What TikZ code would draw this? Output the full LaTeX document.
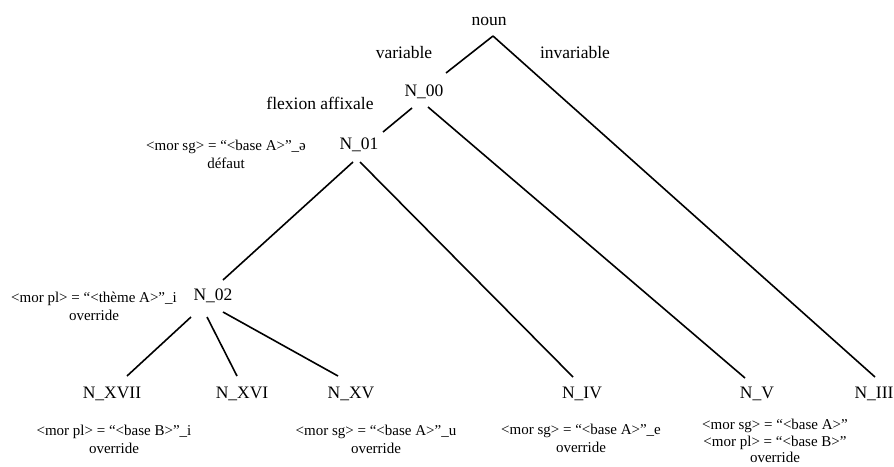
\documentclass[tikz,border=0pt]{standalone}
\usepackage{fontspec}
\setmainfont{Liberation Serif}
\usetikzlibrary{calc}
\begin{document}
\begin{tikzpicture}[x=1pt,y=-1pt,
  lab/.style={inner sep=0pt,font=\fontsize{17.5}{21}\selectfont},
  ann/.style={inner sep=0pt,align=center,font=\fontsize{15}{18}\selectfont},
  edge/.style={line width=1.6pt}]
\useasboundingbox (0,0) rectangle (894,466);
% tree nodes
\node[lab] (noun) at (489,21) {noun};
\node[lab] (n00) at (424,92) {N\_00};
\node[lab] (n01) at (359,145) {N\_01};
\node[lab] (n02) at (213,296) {N\_02};
\node[lab] (nxvii) at (112,394) {N\_XVII};
\node[lab] (nxvi) at (242,394) {N\_XVI};
\node[lab] (nxv) at (351,394) {N\_XV};
\node[lab] (niv) at (582,394) {N\_IV};
\node[lab] (nv) at (757,394) {N\_V};
\node[lab] (niii) at (874,394) {N\_III};
% branch labels
\node[lab] (lvar) at (404,53) {variable};
\node[lab] (linv) at (575,53) {invariable};
\node[lab] (lflex) at (320,103) {flexion affixale};
% annotations
\node[ann] (a01) at (226,154) {<mor sg> = “<base A>”\_ə\\défaut};
\node[ann] (a02) at (94,306) {<mor pl> = “<thème A>”\_i\\override};
\node[ann] (axvii) at (114,439) {<mor pl> = “<base B>”\_i\\override};
\node[ann] (axv) at (376,439) {<mor sg> = “<base A>”\_u\\override};
\node[ann] (aiv) at (581,438) {<mor sg> = “<base A>”\_e\\override};
\node[ann,font=\fontsize{15}{16.5}\selectfont] (av) at (775,441) {<mor sg> = “<base A>”\\<mor pl> = “<base B>”\\override};
% connectors
\draw[edge] ([shift={(4,15)}]noun.center) -- ([shift={(22,-19)}]n00.center);
\draw[edge] ([shift={(4,15)}]noun.center) -- ([shift={(1,-17)}]niii.center);
\draw[edge] ([shift={(-12,16)}]n00.center) -- ([shift={(24,-13)}]n01.center);
\draw[edge] ([shift={(4,15)}]n00.center) -- ([shift={(-12,-16)}]nv.center);
\draw[edge] ([shift={(-6,17)}]n01.center) -- ([shift={(10,-16)}]n02.center);
\draw[edge] ([shift={(1,17)}]n01.center) -- ([shift={(-9,-17)}]niv.center);
\draw[edge] ([shift={(-22,21)}]n02.center) -- ([shift={(15,-18)}]nxvii.center);
\draw[edge] ([shift={(-6,21)}]n02.center) -- ([shift={(-5,-18)}]nxvi.center);
\draw[edge] ([shift={(10,16)}]n02.center) -- ([shift={(-13,-18)}]nxv.center);
\end{tikzpicture}
\end{document}
